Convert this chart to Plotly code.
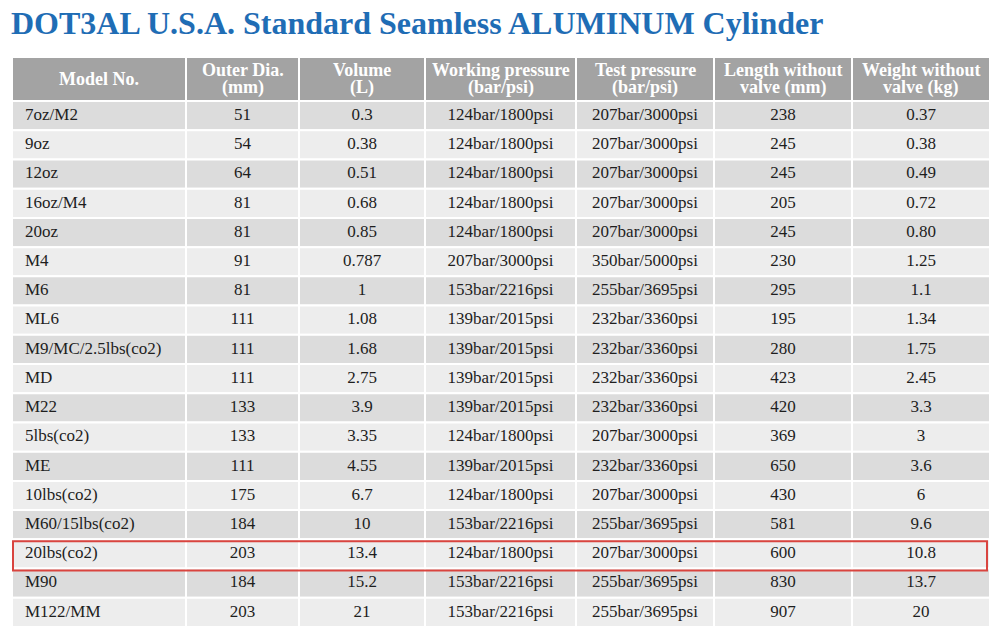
import plotly.graph_objects as go

# -------------------------
# Datos de la tabla
# -------------------------
headers = [["Model No."], ["Outer Dia.", "(mm)"], ["Volume", "(L)"], ["Working pressure", "(bar/psi)"],
           ["Test pressure", "(bar/psi)"], ["Length without", "valve (mm)"], ["Weight without", "valve (kg)"]]

models = ["7oz/M2", "9oz", "12oz", "16oz/M4", "20oz", "M4", "M6", "ML6", "M9/MC/2.5lbs(co2)",
          "MD", "M22", "5lbs(co2)", "ME", "10lbs(co2)", "M60/15lbs(co2)", "20lbs(co2)", "M90", "M122/MM"]
outer_dia = ["51", "54", "64", "81", "81", "91", "81", "111", "111",
             "111", "133", "133", "111", "175", "184", "203", "184", "203"]
volume = ["0.3", "0.38", "0.51", "0.68", "0.85", "0.787", "1", "1.08", "1.68",
          "2.75", "3.9", "3.35", "4.55", "6.7", "10", "13.4", "15.2", "21"]
working_p = ["124bar/1800psi", "124bar/1800psi", "124bar/1800psi", "124bar/1800psi", "124bar/1800psi",
             "207bar/3000psi", "153bar/2216psi", "139bar/2015psi", "139bar/2015psi", "139bar/2015psi",
             "139bar/2015psi", "124bar/1800psi", "139bar/2015psi", "124bar/1800psi", "153bar/2216psi",
             "124bar/1800psi", "153bar/2216psi", "153bar/2216psi"]
test_p = ["207bar/3000psi", "207bar/3000psi", "207bar/3000psi", "207bar/3000psi", "207bar/3000psi",
          "350bar/5000psi", "255bar/3695psi", "232bar/3360psi", "232bar/3360psi", "232bar/3360psi",
          "232bar/3360psi", "207bar/3000psi", "232bar/3360psi", "207bar/3000psi", "255bar/3695psi",
          "207bar/3000psi", "255bar/3695psi", "255bar/3695psi"]
length = ["238", "245", "245", "205", "245", "230", "295", "195", "280",
          "423", "420", "369", "650", "430", "581", "600", "830", "907"]
weight = ["0.37", "0.38", "0.49", "0.72", "0.80", "1.25", "1.1", "1.34", "1.75",
          "2.45", "3.3", "3", "3.6", "6", "9.6", "10.8", "13.7", "20"]

highlight_row = 15  # 20lbs(co2)

# -------------------------
# Estilo / geometría (en px del área de trazado)
# -------------------------
col_widths = [174, 113, 126, 151, 138, 138, 138]
header_h = 44
row_h = 29.2
line_gap = 17.5  # separación entre líneas de cabecera
serif = "Liberation Serif, Times New Roman, serif"
header_fill = "#a3a3a3"
row_colors = ["#dcdcdc", "#ededed"]

columns = [models, outer_dia, volume, working_p, test_p, length, weight]
n_rows = len(models)

col_left = [sum(col_widths[:i]) for i in range(len(col_widths))]
total_w = sum(col_widths)
total_h = header_h + row_h * n_rows

fig = go.Figure()

# Celdas: cabecera + filas
for j, w in enumerate(col_widths):
    x0 = col_left[j]
    fig.add_shape(type="rect", xref="x", yref="y", x0=x0, x1=x0 + w, y0=0, y1=header_h,
                  fillcolor=header_fill, line=dict(color="white", width=2), layer="below")
    lines = headers[j]
    for k, txt in enumerate(lines):
        yk = header_h / 2 + (k - (len(lines) - 1) / 2) * line_gap
        fig.add_annotation(x=x0 + w / 2, y=yk, xref="x", yref="y",
                           text=f"<b>{txt}</b>", showarrow=False,
                           font=dict(family=serif, size=18, color="white"))
    for i in range(n_rows):
        y0 = header_h + i * row_h
        fig.add_shape(type="rect", xref="x", yref="y", x0=x0, x1=x0 + w, y0=y0, y1=y0 + row_h,
                      fillcolor=row_colors[i % 2], line=dict(color="white", width=2), layer="below")

# Texto de las celdas
row_centers = [header_h + (i + 0.5) * row_h for i in range(n_rows)]
for j, vals in enumerate(columns):
    if j == 0:
        xs = [col_left[j] + 13] * n_rows
        pos = "middle right"
    else:
        xs = [col_left[j] + col_widths[j] / 2] * n_rows
        pos = "middle center"
    fig.add_trace(go.Scatter(
        x=xs, y=row_centers, text=vals, mode="text", textposition=pos,
        textfont=dict(family=serif, size=17, color="#1e1e1e"),
        hoverinfo="skip", showlegend=False,
    ))

# Recuadro rojo alrededor de la fila destacada
fig.add_shape(type="rect", xref="x", yref="y",
              x0=1, x1=total_w - 3,
              y0=header_h + highlight_row * row_h + 2, y1=header_h + (highlight_row + 1) * row_h + 2,
              line=dict(color="#d9443f", width=2))

# La página HTML añade 8 px de margen al body: se compensa aquí
fig.update_layout(
    title=dict(text="<b>DOT3AL U.S.A. Standard Seamless ALUMINUM Cylinder</b>",
               x=0.003, xanchor="left", y=0.976, yanchor="middle",
               font=dict(family=serif, size=32, color="#1f6db5")),
    xaxis=dict(visible=False, range=[0, total_w], fixedrange=True),
    yaxis=dict(visible=False, range=[total_h, 0], fixedrange=True),
    width=992,
    height=629,
    margin=dict(l=4, r=10, t=49, b=10),
    plot_bgcolor="white",
    paper_bgcolor="white",
)

fig.write_html("out.html")
